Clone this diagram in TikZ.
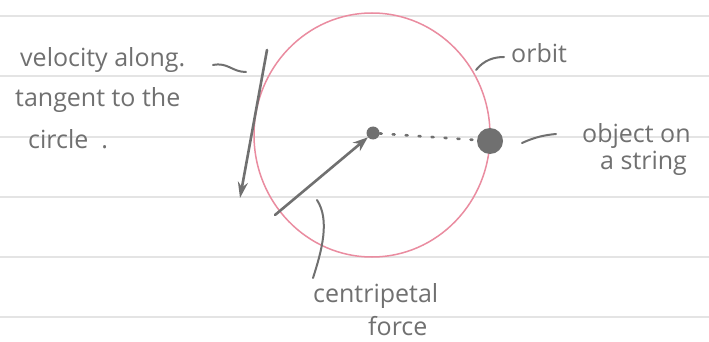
\documentclass[tikz,border=0pt]{standalone}
\usepackage{fontspec}
\setmainfont{Open Sans}
\usetikzlibrary{arrows.meta}
\definecolor{pen}{RGB}{112,112,112}
\definecolor{rule}{RGB}{228,228,228}
\definecolor{orbitpink}{RGB}{234,140,160}
\tikzset{
  ruled/.style={draw=rule, line width=1.2pt},
  penline/.style={draw=pen, line width=2.6pt, line cap=round},
  leader/.style={draw=pen, line width=2pt, line cap=round},
  hand/.style={text=pen, font=\fontsize{25}{30}\selectfont, inner sep=0pt, anchor=west},
}
\begin{document}
\begin{tikzpicture}[x=1pt,y=-1pt]
\useasboundingbox (0,0) rectangle (709,342);
\fill[white] (0,0) rectangle (709,342);
% ruled paper lines
\foreach \yy in {16,76,137,197,257,317}
  \draw[ruled] (0,\yy) -- (709,\yy);
% orbit
\coordinate (C) at (372,135);
\draw[orbitpink, line width=1.5pt] (C) ellipse [x radius=118, y radius=122];
% centre and object
\node[circle, fill=pen, inner sep=0pt, minimum size=13pt] (ctr) at (373,133) {};
\node[circle, fill=pen, inner sep=0pt, minimum size=26pt] (obj) at (490,141) {};
\draw[pen, line width=2.6pt, dash pattern=on 2pt off 11pt, line cap=round] (ctr) -- (obj);
% velocity arrow
\coordinate (v1) at (267,50);
\coordinate (v2) at (240,198);
\draw[penline, -{Stealth[length=16pt,width=10pt]}] (v1) -- (v2);
% centripetal arrow
\coordinate (f1) at (275,215);
\draw[penline, -{Stealth[length=15pt,width=11pt]}] (f1) -- (ctr);
% labels
\node[hand] (vel1) at (20,60) {velocity along.};
\node[hand] (vel2) at (15,100) {tangent to the};
\node[hand] (vel3) at (28,139) {circle\ \ .};
\node[hand] (orb) at (511,53) {orbit};
\node[hand] (obj1) at (582,136) {object on};
\node[hand] (obj2) at (600,163) {a string};
\node[hand] (cen1) at (313,296) {centripetal};
\node[hand] (cen2) at (368,326) {force};
% leaders
\coordinate (la1) at (213,65);
\coordinate (la2) at (246,72);
\draw[leader] (la1) .. controls (228,62) and (232,72) .. (la2);
\coordinate (lo1) at (476,70);
\coordinate (lo2) at (504,57);
\draw[leader] (lo1) .. controls (484,60) and (494,57) .. (lo2);
\coordinate (ls1) at (522,143);
\coordinate (ls2) at (556,134);
\draw[leader] (ls1) .. controls (535,137) and (545,135) .. (ls2);
\coordinate (lc1) at (317,200);
\coordinate (lc2) at (313,278);
\draw[leader] (lc1) .. controls (330,220) and (322,250) .. (lc2);
\end{tikzpicture}
\end{document}
